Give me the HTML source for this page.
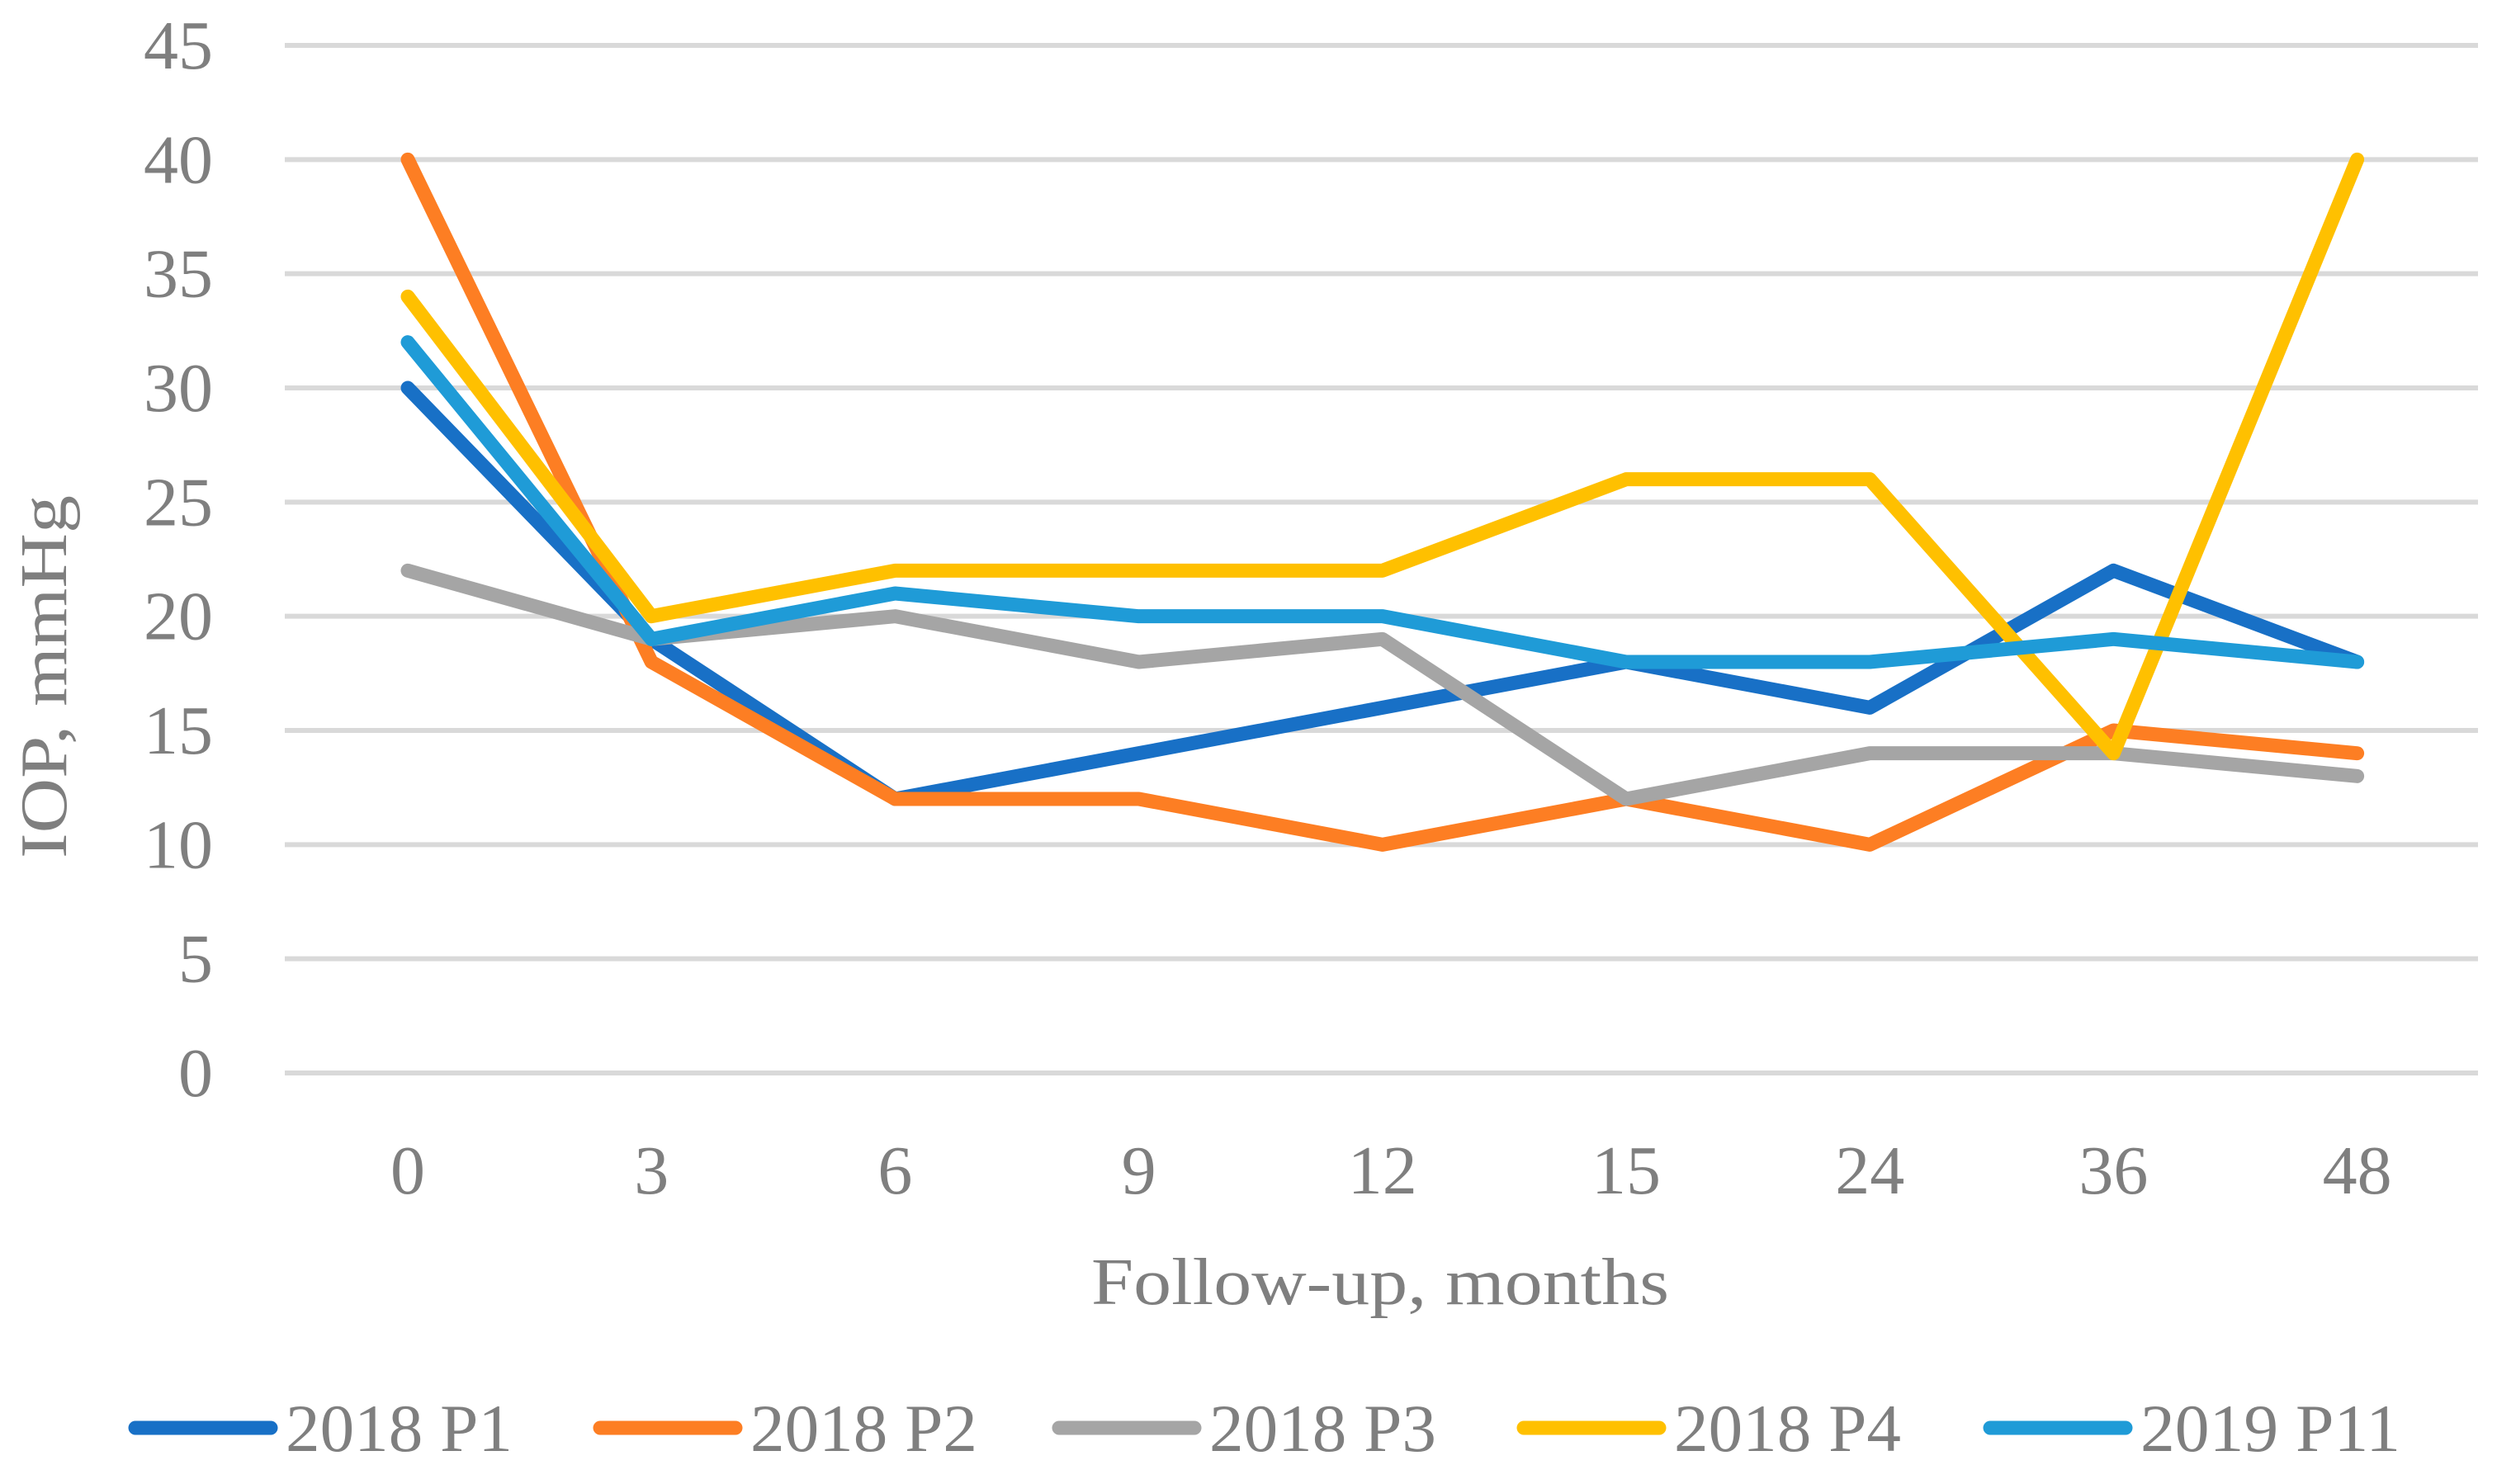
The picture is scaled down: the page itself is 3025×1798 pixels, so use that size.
<!DOCTYPE html>
<html><head><meta charset="utf-8"><style>
html,body{margin:0;padding:0;background:#fff;}
svg text{font-family:"Liberation Serif",serif;fill:#7f7f7f;}
</style></head><body>
<svg id="chart" width="3025" height="1793" viewBox="0 0 3025 1793" xmlns="http://www.w3.org/2000/svg">
<g id="grid"></g>
<g id="yticks"></g>
<g id="xticks"></g>
<g id="series"></g>
<text x="1672" y="1580" font-size="80" text-anchor="middle" textLength="700" lengthAdjust="spacingAndGlyphs">Follow-up, months</text>
<text transform="translate(80,820) rotate(-90)" font-size="80" text-anchor="middle" textLength="440" lengthAdjust="spacingAndGlyphs">IOP, mmHg</text>
<g id="legend"></g>
</svg>
<script>
const categories = ["0","3","6","9","12","15","24","36","48"];
const yTicks = [0,5,10,15,20,25,30,35,40,45];
const seriesNames = ["2018 P1","2018 P2","2018 P3","2018 P4","2019 P11"];
const p1 = [30,19,12,14,16,18,16,22,18];
const p2 = [40,18,12,12,10,12,10,15,14];
const p3 = [22,19,20,18,19,12,14,14,13];
const p4 = [34,20,22,22,22,26,26,14,40];
const p11 = [32,19,21,20,20,18,18,19,18];
const seriesData = [p1,p2,p3,p4,p11];
const colors = ["#1870c6","#fd7e23","#a5a5a5","#ffc000","#1f9bd7"];
const legendX = [164,727,1283,1846,2411];

const NS = "http://www.w3.org/2000/svg";
const x0 = 494, xStep = 295.2, yBase = 1300, yTop = 55, yMax = 45;
function xs(i){ return x0 + i*xStep; }
function ys(v){ return yBase - (v/yMax)*(yBase-yTop); }
function mk(tag, attrs, parent){ const e=document.createElementNS(NS,tag); for(const k in attrs) e.setAttribute(k,attrs[k]); parent.appendChild(e); return e; }

const grid=document.getElementById('grid'), yt=document.getElementById('yticks'), xt=document.getElementById('xticks'), sg=document.getElementById('series'), lg=document.getElementById('legend');
yTicks.forEach(v=>{
  const l=mk('line',{x1:345,x2:3002,y1:ys(v),y2:ys(v),stroke:'#d9d9d9','stroke-width':6},grid);
  
  
  const t=mk('text',{x:258,y:ys(v)+28,'font-size':84,'text-anchor':'end'},yt);
  t.textContent=v;
  
  
});
categories.forEach((c,i)=>{
  const t=mk('text',{x:xs(i),y:1446,'font-size':84,'text-anchor':'middle'},xt);
  t.textContent=c;
  
  
});
seriesData.forEach((d,s)=>{
  const pts=d.map((v,i)=>xs(i)+','+ys(v)).join(' ');
  const p=mk('polyline',{points:pts,fill:'none',stroke:colors[s],'stroke-width':17,'stroke-linejoin':'round','stroke-linecap':'round'},sg);
  
  
  const lx=legendX[s];
  const ll=mk('line',{x1:lx,x2:lx+164,y1:1730,y2:1730,stroke:colors[s],'stroke-width':17,'stroke-linecap':'round'},lg);
  
  
  const lt=mk('text',{x:lx+182,y:1758,'font-size':82,textLength:(s===4?315:275),lengthAdjust:'spacingAndGlyphs'},lg);
  lt.textContent=seriesNames[s];
  
  
});
</script>
</body></html>
